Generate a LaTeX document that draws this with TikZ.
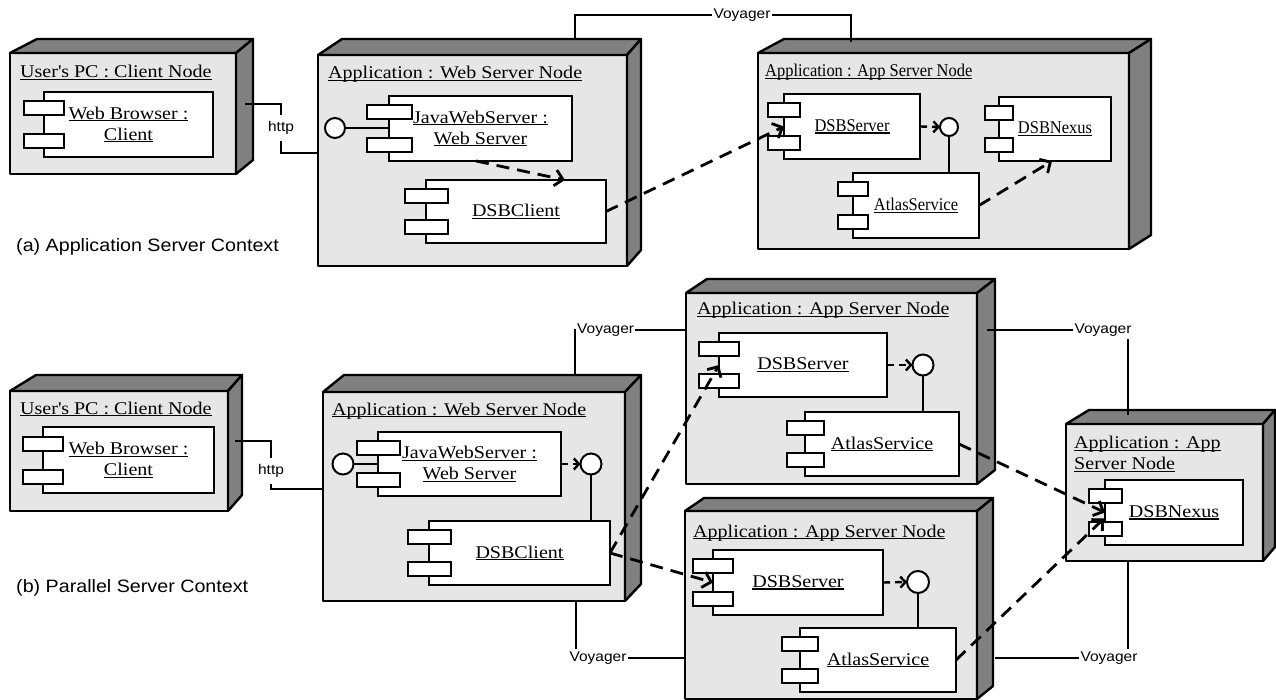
\documentclass[tikz,border=0pt]{standalone}
\usepackage{fontspec}
\setmainfont[FakeStretch=1.12]{Liberation Serif}
\newfontfamily\narrowser[FakeStretch=0.92]{Liberation Serif}
\newfontfamily\labsans[FakeStretch=1.1]{Liberation Sans}
\newsavebox\myulbox
\newcommand\myul[1]{\sbox\myulbox{#1}\rlap{\rule[-2.3pt]{\wd\myulbox}{1.3pt}}\usebox\myulbox}
\usetikzlibrary{arrows.meta,calc}
\definecolor{frontgray}{HTML}{E6E6E6}
\definecolor{facegray}{HTML}{808080}
\newcommand\sersize{\fontsize{17.9}{21}\selectfont}
\newcommand\narrowsize{\narrowser\fontsize{17.9}{21}\selectfont}
\newcommand\labsize{\labsans\fontsize{14.1}{16}\selectfont}
\newcommand\capsize{\labsans\fontsize{17.9}{21}\selectfont}
\tikzset{
 frontface/.style={draw, fill=frontgray, line width=2.4pt, outer sep=0pt, inner sep=0pt, line join=round},
 sideface/.style={draw, fill=facegray, line width=2.4pt, line join=round},
 compbox/.style={draw, fill=white, line width=2.2pt, outer sep=0pt, inner sep=0pt, align=center, font=\sersize},
 tabbox/.style={draw, fill=white, line width=2pt, minimum height=14pt, inner sep=0pt, outer sep=0pt},
 lolli/.style={circle, draw, fill=white, line width=2pt, inner sep=0pt, outer sep=0pt},
 wire/.style={line width=2pt},
 nodelabel/.style={anchor=base west, inner sep=0pt, font=\sersize},
 conlabel/.style={inner xsep=1pt, inner ysep=2pt, font=\labsize},
 httplabel/.style={inner xsep=1pt, inner ysep=6pt, font=\labsize},
 captiontext/.style={anchor=base west, inner sep=0pt, font=\capsize},
 deparrow/.style={line width=2.8pt, dash pattern=on 13pt off 8pt, -{Straight Barb[length=8pt,width=16pt]}},
 lolldep/.style={line width=2.4pt, dash pattern=on 7pt off 5pt, -{Straight Barb[length=5pt,width=11pt]}},
}
% name, x1, y1, x2, y2, left depth, right depth, height of top face
\newcommand\DepNode[8]{%
  \node[frontface, anchor=north west, minimum width={#4-#2}, minimum height={#5-#3}] (#1) at (#2,#3) {};
  \draw[sideface] (#1.north west) -- ++(#6,-#8) -- ($(#1.north east)+(#7,-#8)$) -- (#1.north east) -- cycle;
  \draw[sideface] (#1.north east) -- ++(#7,-#8) -- ($(#1.south east)+(#7,-#8)$) -- (#1.south east) -- cycle;
}
% name, x1, y1, x2, y2, tab width, text
\newcommand\CompBox[7]{%
  \node[compbox, anchor=north west, minimum width={#4-#2}, minimum height={#5-#3}] (#1) at (#2,#3) {#7};
  \node[tabbox, minimum width=#6] (#1-t1) at ($(#1.west)!0.5!(#1.north west)$) {};
  \node[tabbox, minimum width=#6] (#1-t2) at ($(#1.west)!0.5!(#1.south west)$) {};
}
\begin{document}
\begin{tikzpicture}[x=1pt,y=-1pt]
\useasboundingbox (0,0) rectangle (1276,700);
% ---------------- (a) ----------------
\DepNode{pcA}{10}{53}{236}{174}{27}{17}{14}
\DepNode{wsA}{318}{55}{627}{266}{24}{14}{16}
\DepNode{appA}{758}{53}{1129}{249}{26}{22}{14}
\node[nodelabel] (pcAl) at (20,78) {\myul{User\textquotesingle s PC : Client Node}};
\node[nodelabel] (wsAl) at (328,79) {\myul{Application : Web Server Node}};
\node[nodelabel, font=\narrowsize] (appAl) at (765,77) {\myul{Application : App Server Node}};

\CompBox{wbA}{44}{92}{213}{157}{40}{\myul{Web Browser :}\\\myul{Client}}
\CompBox{jwsA}{389}{96}{572}{161}{45}{\myul{JavaWebServer :}\\\myul{Web Server}}
\CompBox{dcA}{426}{180}{606}{243}{43}{\myul{DSBClient}}
\CompBox{dsA}{784}{94}{920}{159}{32}{\narrowsize\myul{DSBServer}}
\CompBox{atA}{853}{173}{979}{238}{30}{\narrowsize\myul{AtlasService}}
\CompBox{nxA}{999}{97}{1111}{161}{28}{\narrowsize\myul{DSBNexus}}

\node[lolli, minimum size=20pt] (lpA1) at (335,128) {};
\draw[wire] (lpA1.east) -- (jwsA.west |- lpA1.east);
\node[lolli, minimum size=18pt] (lpA2) at (949,127) {};
\draw[lolldep] (dsA.east) -- (lpA2.west);
\draw[wire] (lpA2.south) -- (lpA2.south |- atA.north);

\draw[deparrow] ($(jwsA.south west)+(87,0)$) -- ($(dcA.north west)+(139,0)$);
\draw[deparrow] (dcA.east) -- (dsA.west);
\draw[deparrow] (atA.east) -- ($(nxA.south west)+(53,0)$);

\coordinate (hAs) at ($(pcA.north east)+(9,51)$);
\node[httplabel] (hAl) at (281,128) {http};
\draw[wire] (hAs) -| (hAl.north);
\draw[wire] (hAl.south) |- ($(wsA.north west)+(0,98)$);

\coordinate (vAs) at ($(wsA.north west)+(257,-16)$);
\node[conlabel] (vAl) at (742,15) {Voyager};
\coordinate (vAe) at ($(appA.north west)+(93,-11)$);
\draw[wire] (vAs) |- (vAl.west);
\draw[wire] (vAl.east) -| (vAe);

\node[captiontext] (capA) at (16,252) {(a) Application Server Context};

% ---------------- (b) ----------------
\DepNode{pcB}{10}{391}{228}{511}{26}{14}{16}
\DepNode{wsB}{323}{392}{625}{601}{21}{16}{17}
\DepNode{apB1}{686}{293}{977}{484}{21}{18}{14}
\DepNode{apB2}{685}{511}{977}{699}{19}{16}{13}
\DepNode{nxBn}{1066}{424}{1263}{561}{23}{12}{14}
\node[nodelabel] (pcBl) at (20,414) {\myul{User\textquotesingle s PC : Client Node}};
\node[nodelabel] (wsBl) at (332,415) {\myul{Application : Web Server Node}};
\node[nodelabel] (apB1l) at (697,315) {\myul{Application : App Server Node}};
\node[nodelabel] (apB2l) at (693,537) {\myul{Application : App Server Node}};
\node[anchor=north west, inner sep=0pt, align=left, font=\sersize] (nxBnl) at (1074,436) {\myul{Application : App}\\\myul{Server Node}};

\CompBox{wbB}{43}{427}{214}{493}{40}{\myul{Web Browser :}\\\myul{Client}}
\CompBox{jwsB}{378}{432}{561}{496}{43}{\myul{JavaWebServer :}\\\myul{Web Server}}
\CompBox{dcB}{429}{521}{610}{585}{43}{\myul{DSBClient}}
\CompBox{dsB1}{719}{333}{887}{397}{40}{\myul{DSBServer}}
\CompBox{atB1}{805}{412}{959}{476}{37}{\myul{AtlasService}}
\CompBox{dsB2}{713}{550}{883}{615}{40}{\myul{DSBServer}}
\CompBox{atB2}{800}{628}{956}{692}{36}{\myul{AtlasService}}
\CompBox{nxB}{1105}{480}{1243}{545}{33}{\myul{DSBNexus}}

\node[lolli, minimum size=21pt] (lpB1) at (343,464) {};
\draw[wire] (lpB1.east) -- (jwsB.west |- lpB1.east);
\node[lolli, minimum size=21pt] (lpB2) at (591,464) {};
\draw[lolldep] (jwsB.east) -- (lpB2.west);
\draw[wire] (lpB2.south) -- (lpB2.south |- dcB.north);
\node[lolli, minimum size=21pt] (lpB3) at (923,365) {};
\draw[lolldep] (dsB1.east) -- (lpB3.west);
\draw[wire] (lpB3.south) -- (lpB3.south |- atB1.north);
\node[lolli, minimum size=22pt] (lpB4) at (918,582) {};
\draw[lolldep] (dsB2.east) -- (lpB4.west);
\draw[wire] (lpB4.south) -- (lpB4.south |- atB2.north);

\draw[deparrow] (dcB.east) -- (dsB1.west);
\draw[deparrow] (dcB.east) -- (dsB2.west);
\draw[deparrow] (atB1.east) -- (nxB.west);
\draw[deparrow] (atB2.east) -- ($(nxB.west)+(-1,6)$);

\coordinate (hBs) at ($(pcB.north east)+(7,50)$);
\node[httplabel] (hBl) at (271,471) {http};
\draw[wire] (hBs) -| (hBl.north);
\draw[wire] (hBl.south) |- ($(wsB.north west)+(0,97)$);

\coordinate (vB1s) at ($(wsB.north west)+(252,-17)$);
\node[conlabel, anchor=west] (vB1l) at (576,330) {Voyager};
\draw[wire] (vB1s) |- (vB1l.west);
\draw[wire] (vB1l.east) -- (apB1.west |- vB1l.east);

\coordinate (vB2s) at ($(apB1.north east)+(10,37)$);
\node[conlabel] (vB2l) at (1103,330) {Voyager};
\coordinate (vB2e) at ($(nxBn.north west)+(62,-9)$);
\draw[wire] (vB2s) -- (vB2l.west);
\draw[wire] (vB2l.south -| vB2e) -- (vB2e);

\coordinate (vB3s) at ($(wsB.south west)+(253,0)$);
\node[conlabel] (vB3l) at (598,658) {Voyager};
\draw[wire] (vB3s) -- (vB3s |- vB3l.north);
\draw[wire] (vB3l.east) -- (apB2.west |- vB3l.east);

\coordinate (vB4s) at ($(nxBn.south west)+(62,0)$);
\node[conlabel] (vB4l) at (1109,658) {Voyager};
\coordinate (vB4e) at ($(apB2.north east)+(18,147)$);
\draw[wire] (vB4s) -- (vB4s |- vB4l.north);
\draw[wire] (vB4e) -- (vB4l.west);

\node[captiontext] (capB) at (16,592) {(b) Parallel Server Context};
\end{tikzpicture}
\end{document}
